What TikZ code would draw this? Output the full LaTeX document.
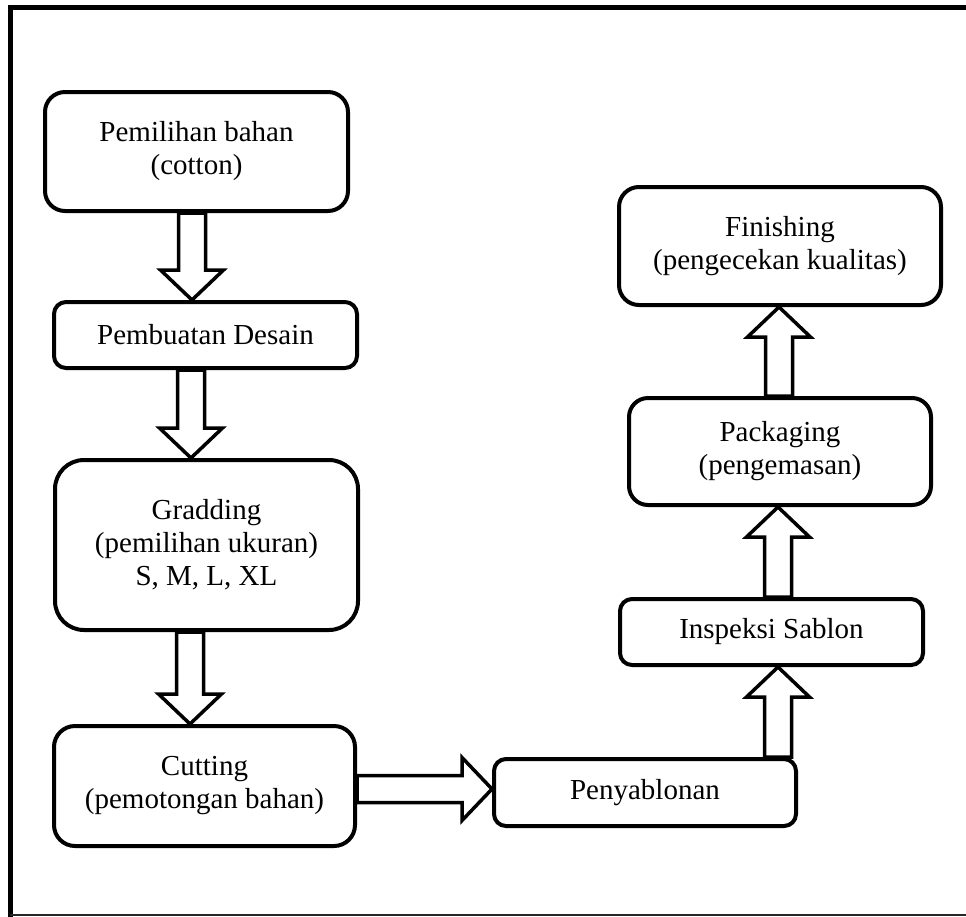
\documentclass[tikz,border=0pt]{standalone}
\usepackage{fontspec}
\setmainfont{Liberation Serif}
\usetikzlibrary{calc}
\tikzset{
  box/.style={draw, line width=4pt, fill=white, align=center,
    font=\fontsize{29}{33}\selectfont, inner sep=0pt},
  barrow/.style={draw, line width=3.5pt, fill=white, line join=miter},
  frameline/.style={line width=5pt, line cap=rect},
}
\newcommand{\BArrow}[2]{%
  \coordinate (ba) at (#1);
  \coordinate (bb) at (#2);
  \coordinate (bh) at ($(bb)!30pt!(ba)$);
  \draw[barrow] ($(ba)!13.5pt!90:(bb)$) -- ($(bh)!13.5pt!-90:(ba)$)
    -- ($(bh)!31.5pt!-90:(ba)$) -- (bb) -- ($(bh)!31.5pt!90:(ba)$)
    -- ($(bh)!13.5pt!90:(ba)$) -- ($(ba)!13.5pt!-90:(bb)$) -- cycle;
}
\begin{document}
\begin{tikzpicture}[x=1pt,y=-1pt]
\useasboundingbox (0,0) rectangle (966,916);
% outer frame
\coordinate (fbl) at (10,930);
\coordinate (ftl) at (10,7.5);
\coordinate (ftr) at (980,7.5);
\draw[frameline] (fbl) -- (ftl) -- (ftr);
\coordinate (fb1) at (10,914.8);
\coordinate (fb2) at (980,914.8);
\draw[line width=1.6pt, black!85] (fb1) -- (fb2);

% boxes
\node[box, minimum width=303pt, minimum height=119pt, rounded corners=20pt] (b1) at (196.5,151.5) {Pemilihan bahan\\(cotton)};
\node[box, minimum width=303pt, minimum height=66pt, rounded corners=12pt] (b2) at (205.5,335) {Pembuatan Desain};
\node[box, minimum width=303pt, minimum height=170pt, rounded corners=29pt] (b3) at (206.5,545) {Gradding\\(pemilihan ukuran)\\S, M, L, XL};
\node[box, minimum width=301pt, minimum height=120pt, rounded corners=21pt] (b4) at (204.5,786) {Cutting\\(pemotongan bahan)};
\node[box, minimum width=302pt, minimum height=67pt, rounded corners=12pt] (b5) at (645,792.5) {Penyablonan};
\node[box, minimum width=303pt, minimum height=66pt, rounded corners=12pt] (b6) at (771.5,632) {Inspeksi Sablon};
\node[box, minimum width=302pt, minimum height=107pt, rounded corners=19pt] (b7) at (780,451.5) {Packaging\\(pengemasan)};
\node[box, minimum width=322pt, minimum height=118pt, rounded corners=20pt] (b8) at (780,246) {Finishing\\(pengecekan kualitas)};

% block arrows
\BArrow{$(b1.south)+(-4.5,0)$}{$(b2.north)+(-13.5,0)$}
\BArrow{$(b2.south)+(-14.5,0)$}{$(b3.north)+(-15.5,0)$}
\BArrow{$(b3.south)+(-16.5,0)$}{$(b4.north)+(-14.5,0)$}
\BArrow{$(b4.east)+(0,3)$}{$(b5.west)+(0,-3.5)$}
\BArrow{$(b5.north)+(133,0)$}{$(b6.south)+(6.5,0)$}
\BArrow{$(b6.north)+(6.5,0)$}{$(b7.south)+(-2,0)$}
\BArrow{$(b7.north)+(-1,0)$}{$(b8.south)+(-1,0)$}
\end{tikzpicture}
\end{document}
